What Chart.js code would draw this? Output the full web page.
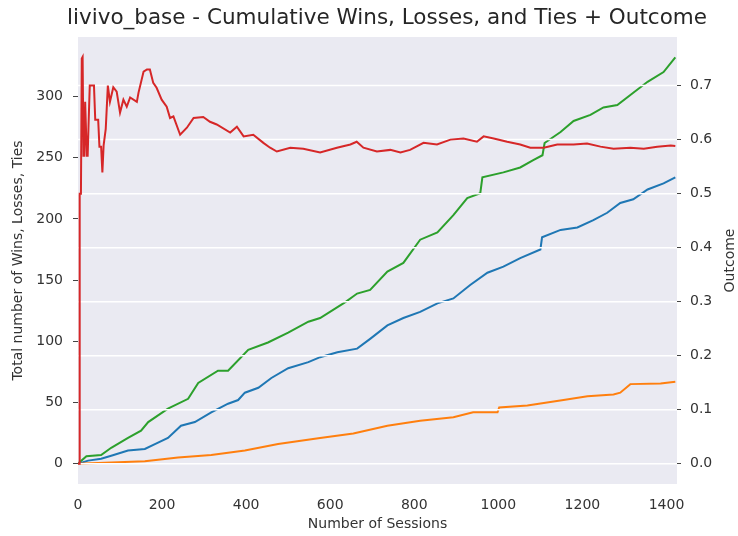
<!DOCTYPE html>
<html>
<head>
<meta charset="utf-8">
<script src="https://cdn.jsdelivr.net/npm/chart.js@4"></script>
<style>
  html, body { margin: 0; padding: 0; background: #fff; }
  #chart { display: block; }
</style>
</head>
<body>
<canvas id="chart" width="738" height="536"></canvas>
<script>
// cumulative counts
var winSessions = [0, 20, 55, 79, 119, 150, 167, 214, 262, 286, 333, 357, 405, 452, 500, 548, 576, 636, 664, 695, 736, 774, 814, 855, 893, 926, 957, 962, 1012, 1052, 1083, 1105, 1110, 1148, 1179, 1219, 1250, 1283, 1321, 1355, 1393, 1421];
var wins = [0, 6, 7, 13, 21, 27, 34, 45, 53, 66, 76, 76, 93, 99, 107, 116, 119, 132, 139, 142, 157, 164, 183, 189, 203, 217, 221, 234, 238, 242, 248, 252, 262, 271, 280, 285, 291, 293, 303, 312, 320, 332];

var lossSessions = [0, 24, 55, 79, 119, 159, 183, 214, 245, 278, 317, 357, 381, 397, 429, 460, 500, 548, 576, 617, 664, 695, 736, 774, 814, 855, 893, 933, 974, 1012, 1052, 1100, 1104, 1148, 1188, 1226, 1259, 1290, 1321, 1355, 1393, 1421];
var losses = [0, 2.5, 4, 6.5, 10.7, 12, 16, 21, 31, 34, 42, 49, 52, 58, 62, 70, 78, 83, 87, 91, 94, 102, 113, 119, 124, 131, 135, 146, 156, 161, 168, 175, 185, 191, 193, 199, 205, 213, 216, 224, 229, 234];

var tieSessions = [0, 79, 159, 238, 317, 397, 476, 555, 576, 655, 736, 814, 893, 940, 998, 1002, 1069, 1155, 1212, 1274, 1290, 1314, 1386, 1421];
var ties = [0, 1, 2, 5, 7, 10.7, 16, 20, 21, 24.6, 31, 35, 38, 42, 42, 46, 47.5, 52, 55, 56.5, 58, 65, 65.5, 67];

// outcome ratio (right axis)
var outcomeSessions = [0, 3, 4, 7, 9, 11, 13, 15, 17, 19, 21, 23, 25, 28, 38, 41, 48, 51, 55, 58, 61, 66, 71, 76, 84, 92, 100, 108, 116, 124, 140, 144, 156, 164, 171, 179, 187, 199, 211, 219, 227, 243, 259, 275, 298, 314, 330, 362, 378, 394, 417, 441, 457, 473, 505, 536, 576, 616, 648, 663, 679, 711, 743, 767, 790, 822, 854, 886, 917, 949, 965, 989, 1021, 1052, 1076, 1108, 1140, 1179, 1211, 1243, 1274, 1314, 1346, 1378, 1410, 1421];
var outcome = [0, 0, 0.5, 0.5, 0.75, 0.753, 0.57, 0.57, 0.67, 0.67, 0.57, 0.57, 0.625, 0.70, 0.70, 0.637, 0.637, 0.587, 0.587, 0.539, 0.59, 0.62, 0.70, 0.67, 0.697, 0.689, 0.65, 0.674, 0.661, 0.678, 0.67, 0.687, 0.726, 0.73, 0.73, 0.705, 0.696, 0.674, 0.661, 0.64, 0.643, 0.609, 0.622, 0.64, 0.642, 0.633, 0.628, 0.613, 0.624, 0.606, 0.609, 0.594, 0.585, 0.578, 0.585, 0.583, 0.576, 0.585, 0.591, 0.596, 0.585, 0.578, 0.581, 0.576, 0.581, 0.594, 0.591, 0.6, 0.602, 0.596, 0.606, 0.602, 0.596, 0.591, 0.585, 0.585, 0.591, 0.591, 0.593, 0.587, 0.583, 0.585, 0.583, 0.587, 0.589, 0.588];

var xTicks = [0, 200, 400, 600, 800, 1000, 1200, 1400];

function pts(xs, ys) {
  return xs.map(function (x, i) { return {x: x, y: ys[i]}; });
}

var font = 'DejaVu Sans';
var textColor = '#333';

// plot background
var background = {
  id: 'background',
  beforeDraw: function (chart) {
    var a = chart.chartArea, ctx = chart.ctx;
    ctx.save();
    ctx.fillStyle = '#EAEAF2';
    ctx.fillRect(a.left, a.top, a.right - a.left, a.bottom - a.top);
    ctx.restore();
  }
};

// right axis grid goes over the count lines but under the outcome line
var twinGrid = {
  id: 'twinGrid',
  beforeDatasetDraw: function (chart, args) {
    if (args.index !== 3) return;
    var a = chart.chartArea, ctx = chart.ctx, s = chart.scales.y2;
    ctx.save();
    ctx.strokeStyle = '#fff';
    ctx.lineWidth = 1.5;
    s.ticks.forEach(function (t) {
      var y = s.getPixelForValue(t.value);
      ctx.beginPath();
      ctx.moveTo(a.left, y);
      ctx.lineTo(a.right, y);
      ctx.stroke();
    });
    ctx.restore();
  },
  afterDraw: function (chart) {
    var a = chart.chartArea, ctx = chart.ctx;
    ctx.save();
    ctx.fillStyle = textColor;
    ctx.textAlign = 'center';
    ctx.textBaseline = 'middle';
    // title, centred a bit right of the page like the original
    ctx.font = '21.5px "' + font + '"';
    ctx.fillStyle = '#262626';
    ctx.fillText('livivo_base - Cumulative Wins, Losses, and Ties + Outcome', 387, 18);
    // right axis label, reads bottom to top
    ctx.fillStyle = textColor;
    ctx.translate(730, (a.top + a.bottom) / 2);
    ctx.rotate(-Math.PI / 2);
    ctx.font = '14px "' + font + '"';
    ctx.fillText('Outcome', 0, 0);
    ctx.restore();
  }
};

var ctx = document.getElementById('chart');
var chart = new Chart(ctx, {
  type: 'line',
  data: {
    datasets: [
      {label: 'Wins', data: pts(winSessions, wins), borderColor: '#2ca02c', yAxisID: 'y', order: 3},
      {label: 'Losses', data: pts(lossSessions, losses), borderColor: '#1f77b4', yAxisID: 'y', order: 2},
      {label: 'Ties', data: pts(tieSessions, ties), borderColor: '#ff7f0e', yAxisID: 'y', order: 1},
      {label: 'Outcome', data: pts(outcomeSessions, outcome), borderColor: '#d62728', yAxisID: 'y2', order: 0}
    ]
  },
  options: {
    responsive: false,
    animation: false,
    layout: {padding: {top: 37}},
    elements: {
      point: {radius: 0},
      line: {borderWidth: 2, tension: 0}
    },
    plugins: {
      legend: {display: false},
      tooltip: {enabled: false},
      title: {display: false}
    },
    scales: {
      x: {
        type: 'linear',
        min: 0,
        max: 1425,
        afterFit: function (s) { s.height = 52; },
        afterBuildTicks: function (s) { s.ticks = xTicks.map(function (v) { return {value: v}; }); },
        grid: {display: false, drawTicks: false},
        border: {display: false},
        ticks: {
          padding: 13, color: textColor, font: {family: font, size: 14}, maxRotation: 0, autoSkip: false,
          callback: function (v) { return String(v); }
        },
        title: {display: true, text: 'Number of Sessions', color: textColor, font: {family: font, size: 14}, padding: {bottom: 3}}
      },
      y: {
        position: 'left',
        min: -16.6,
        max: 348.6,
        afterFit: function (s) { s.width = 78; },
        grid: {drawOnChartArea: false, drawTicks: true, tickLength: 5, color: '#444', lineWidth: 1},
        border: {display: false},
        ticks: {stepSize: 50, includeBounds: false, padding: 10, color: textColor, font: {family: font, size: 14}},
        title: {display: true, text: 'Total number of Wins, Losses, Ties', color: textColor, font: {family: font, size: 14}, padding: {top: 10}}
      },
      y2: {
        position: 'right',
        min: -0.0376,
        max: 0.79,
        afterFit: function (s) { s.width = 61; },
        grid: {drawOnChartArea: false, drawTicks: true, tickLength: 4, color: '#444', lineWidth: 1},
        border: {display: false},
        ticks: {
          stepSize: 0.1, includeBounds: false, padding: 9, color: textColor, font: {family: font, size: 14},
          callback: function (v) { return v.toFixed(1); }
        }
      }
    }
  },
  plugins: [background, twinGrid]
});
</script>
</body>
</html>
